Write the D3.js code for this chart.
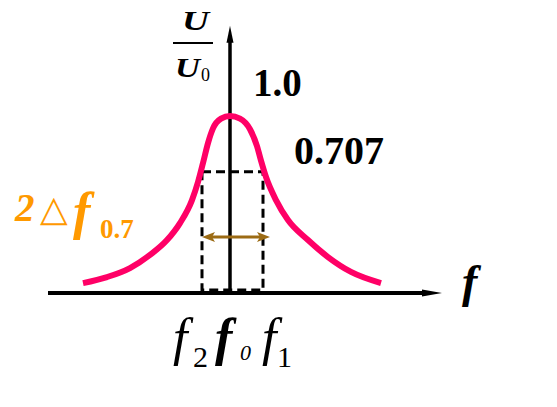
<!DOCTYPE html>
<html>
<head>
<meta charset="utf-8">
<script src="https://cdn.jsdelivr.net/npm/d3@7/dist/d3.min.js"></script>
<style>
html,body{margin:0;padding:0;background:#fff;}
svg{display:block;}
</style>
</head>
<body>
<svg id="c" width="557" height="407"></svg>
<script>
// Detuning (relative to f0, arbitrary units) and relative amplitude U/U0
const curveDetuning = [-147,-123,-100,-80,-63,-50,-38,-32,-27,-22,-17,-9,0,10,20,27,31,36,46,58,78,98,121,151];
const curveAmplitude = [0.056,0.090,0.141,0.215,0.299,0.395,0.525,0.627,0.734,0.847,0.930,0.985,1.0,0.985,0.925,0.830,0.748,0.655,0.525,0.412,0.299,0.203,0.119,0.056];
const bandEdges = [-28, 33];          // f2, f1 detuning
const bandLevel = 0.685;              // level of the 0.707 line as drawn
const bandArrow = {from: -28, to: 40, level: 0.316};
const axisDomainX = [-182, 212];
const axisTopY = 1.51;
const levelLabels = ["1.0", "0.707"];
const freqLabels = [{f: "f", sub: "2"}, {f: "f", sub: "0"}, {f: "f", sub: "1"}];

const SERIF = "Liberation Serif";
const svg = d3.select("#c").attr("font-family", SERIF);
const x = d3.scaleLinear().domain([-182, 212]).range([48, 442]);
const y = d3.scaleLinear().domain([0, 1]).range([293, 116]);

// axes
const axisColor = "#000";
svg.append("line").attr("x1", x(axisDomainX[0])).attr("x2", x(axisDomainX[1]) - 14)
  .attr("y1", y(0)).attr("y2", y(0)).attr("stroke", axisColor).attr("stroke-width", 4);
svg.append("path").attr("d", `M${x(axisDomainX[1])},${y(0)} L${x(axisDomainX[1]) - 20},${y(0) - 3.5} L${x(axisDomainX[1]) - 20},${y(0) + 3.5} Z`)
  .attr("fill", axisColor);
svg.append("line").attr("x1", x(0)).attr("x2", x(0))
  .attr("y1", y(0) + 2).attr("y2", y(axisTopY) + 12).attr("stroke", axisColor).attr("stroke-width", 3.5);
svg.append("path").attr("d", `M${x(0)},${y(axisTopY)} L${x(0) - 3.5},${y(axisTopY) + 17} L${x(0) + 3.5},${y(axisTopY) + 17} Z`)
  .attr("fill", axisColor);

// dashed band rectangle
svg.append("rect")
  .attr("x", x(bandEdges[0])).attr("y", y(bandLevel))
  .attr("width", x(bandEdges[1]) - x(bandEdges[0]))
  .attr("height", y(0) - y(bandLevel) - 3)
  .attr("fill", "none").attr("stroke", "#000").attr("stroke-width", 3)
  .attr("stroke-dasharray", "9,5");

// resonance curve
const pts = curveDetuning.map((d, i) => [d, curveAmplitude[i]]);
svg.append("path").datum(pts)
  .attr("d", d3.line().x(d => x(d[0])).y(d => y(d[1])).curve(d3.curveMonotoneX))
  .attr("fill", "none").attr("stroke", "#FF0066").attr("stroke-width", 6).attr("stroke-linecap", "butt");

// bandwidth double arrow
const ac = "#9C6B14";
const ay = y(bandArrow.level);
const ax1 = x(bandArrow.from), ax2 = x(bandArrow.to);
svg.append("line").attr("x1", ax1 + 8).attr("x2", ax2 - 8).attr("y1", ay).attr("y2", ay)
  .attr("stroke", ac).attr("stroke-width", 3);
svg.append("path").attr("d", `M${ax1},${ay} L${ax1 + 13},${ay - 5} L${ax1 + 10},${ay} L${ax1 + 13},${ay + 5} Z`).attr("fill", ac);
svg.append("path").attr("d", `M${ax2},${ay} L${ax2 - 13},${ay - 5} L${ax2 - 10},${ay} L${ax2 - 13},${ay + 5} Z`).attr("fill", ac);

// U/U0 label
svg.append("text").attr("x", 182).attr("y", 30).attr("font-size", 28)
  .attr("font-style", "italic").attr("font-weight", "bold")
  .attr("textLength", 27).attr("lengthAdjust", "spacingAndGlyphs").text("U");
svg.append("line").attr("x1", 173).attr("x2", 213).attr("y1", 43).attr("y2", 43)
  .attr("stroke", "#000").attr("stroke-width", 1.8);
svg.append("text").attr("x", 175).attr("y", 77).attr("font-size", 28)
  .attr("font-style", "italic").attr("font-weight", "bold")
  .attr("textLength", 25).attr("lengthAdjust", "spacingAndGlyphs").text("U");
svg.append("text").attr("x", 201).attr("y", 81).attr("font-size", 18).text("0");

// level labels
svg.append("text").attr("x", 253).attr("y", 96).attr("font-size", 39).attr("font-weight", "bold").text(levelLabels[0]);
svg.append("text").attr("x", 294).attr("y", 164).attr("font-size", 40).attr("font-weight", "bold").text(levelLabels[1]);

// 2Δf0.7 label
const orange = "#FF9900";
svg.append("text").attr("x", 15).attr("y", 221).attr("fill", orange).attr("font-size", 39)
  .attr("font-weight", "bold").attr("font-style", "italic").text("2");
svg.append("text").attr("x", 40).attr("y", 221).attr("fill", orange).attr("font-size", 36)
  .attr("font-family", "DejaVu Sans").attr("font-style", "italic").text("△");
svg.append("text").attr("x", 73).attr("y", 229).attr("fill", orange).attr("font-size", 52)
  .attr("font-weight", "bold").attr("font-style", "italic").text("f");
svg.append("text").attr("x", 100).attr("y", 238).attr("fill", orange).attr("font-size", 27)
  .attr("font-weight", "bold").text("0.7");

// axis name f
svg.append("text").attr("x", 462).attr("y", 297).attr("font-size", 46)
  .attr("font-style", "italic").attr("font-weight", "bold").text("f");

// frequency labels f2 f0 f1
const fX = [173, 215, 262], subX = [193, 240, 277], subSize = [30, 22, 30], subY = [367, 360, 367];
freqLabels.forEach((d, i) => {
  svg.append("text").attr("x", fX[i]).attr("y", 355).attr("font-size", 52).attr("font-style", "italic")
    .attr("font-weight", i === 1 ? "bold" : "normal").text(d.f);
  svg.append("text").attr("x", subX[i]).attr("y", subY[i]).attr("font-size", subSize[i])
    .attr("font-style", i === 1 ? "italic" : "normal").text(d.sub);
});
</script>
</body>
</html>
